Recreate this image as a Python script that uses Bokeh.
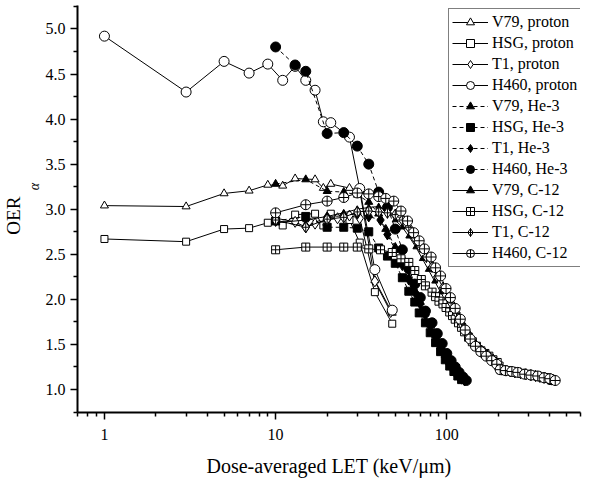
from bokeh.plotting import figure
from bokeh.models import FixedTicker, PrintfTickFormatter, Legend, LegendItem, Title, Range1d
from bokeh.embed import file_html
from bokeh.resources import INLINE

# ---------------- data ----------------
v79_p_x = [1, 3, 5, 7, 9, 11, 13, 17, 19, 21, 27, 31, 38, 48]
v79_p_y = [3.04, 3.03, 3.175, 3.205, 3.27, 3.26, 3.34, 3.33, 3.235, 3.28, 3.235, 3.21, 2.21, 1.85]

hsg_p_x = [1, 3, 5, 7, 9, 11, 13, 17, 19, 21, 27, 31, 38, 48]
hsg_p_y = [2.67, 2.64, 2.78, 2.79, 2.85, 2.82, 2.94, 2.95, 2.82, 2.95, 2.88, 2.63, 2.08, 1.73]

t1_p_x = [10, 13, 15, 17, 20, 23, 27, 31, 38, 47]
t1_p_y = [2.90, 2.86, 2.80, 2.84, 2.88, 2.90, 2.93, 2.90, 2.20, 1.86]

h460_p_x = [1, 3, 5, 7, 9, 11, 13, 15, 17, 19, 21, 27, 31, 38, 48]
h460_p_y = [4.92, 4.30, 4.64, 4.51, 4.61, 4.43, 4.585, 4.43, 4.32, 3.97, 3.96, 3.80, 3.23, 2.33, 1.88]

v79_he_x = [10, 15, 20, 25, 30, 35, 40, 44, 50, 55, 60, 65, 70, 75, 80, 86, 92, 98, 104, 110, 116, 122, 128]
v79_he_y = [3.28, 3.33, 3.20, 3.19, 3.16, 3.08, 2.95, 2.78, 2.58, 2.40, 2.24, 2.10, 1.97, 1.85, 1.72,
            1.60, 1.48, 1.38, 1.30, 1.23, 1.17, 1.13, 1.10]

hsg_he_x = [10, 15, 20, 25, 30, 35, 40, 45, 50, 55, 60, 65, 69, 75, 80, 86, 92, 98, 104, 110, 116, 122]
hsg_he_y = [2.87, 2.92, 2.80, 2.80, 2.79, 2.75, 2.57, 2.48, 2.40, 2.24, 2.09, 1.97, 1.85, 1.74, 1.63,
            1.52, 1.42, 1.33, 1.26, 1.20, 1.15, 1.11]

t1_he_x = [10, 15, 20, 25, 30, 35, 41, 45, 50, 55, 60, 65, 70, 75, 80, 86, 92, 98, 104, 110, 116, 122, 127]
t1_he_y = [2.87, 2.81, 2.91, 2.93, 2.95, 2.92, 2.88, 2.72, 2.55, 2.38, 2.22, 2.08, 1.95, 1.83, 1.71,
           1.59, 1.48, 1.38, 1.29, 1.22, 1.16, 1.12, 1.10]

h460_he_x = [10, 13, 15, 20, 25, 30, 35, 40, 45, 50, 55, 60, 65, 70, 75, 82, 88, 94, 100, 106, 112, 118, 124, 130]
h460_he_y = [4.80, 4.60, 4.53, 3.84, 3.85, 3.70, 3.50, 3.19, 3.02, 2.78, 2.55, 2.34, 2.17, 2.02, 1.87,
             1.74, 1.62, 1.51, 1.40, 1.32, 1.25, 1.19, 1.14, 1.10]

v79_c_x = [10, 15, 20, 25, 30, 35, 40, 45, 50, 55, 60, 66, 72, 78, 85, 92, 100, 104, 108, 112, 117, 122,
           127, 132, 138, 144, 150, 156, 163, 170, 178, 185, 193, 200, 205, 215, 230, 245, 260, 280, 300,
           320, 340, 360, 380, 400, 420]
v79_c_y = [2.85, 2.88, 2.92, 2.96, 3.00, 3.02, 3.03, 2.98, 2.88, 2.80, 2.70, 2.58, 2.45, 2.33, 2.20, 2.08,
           1.96, 1.90, 1.85, 1.80, 1.74, 1.68, 1.63, 1.58, 1.54, 1.50, 1.46, 1.43, 1.40, 1.37, 1.35, 1.32,
           1.30, 1.27, 1.23, 1.22, 1.21, 1.20, 1.19, 1.18, 1.17, 1.16, 1.15, 1.14, 1.13, 1.12, 1.10]

hsg_c_x = [10, 15, 20, 25, 30, 35, 41, 48, 54, 60, 65, 71, 75, 82, 86, 90, 95, 99, 104, 108, 112, 117,
           122, 127, 134, 141, 149, 158, 167, 176, 186, 197, 202, 207, 215, 225, 240, 257, 275, 295, 315,
           338, 360, 386, 400, 415]
hsg_c_y = [2.55, 2.58, 2.58, 2.58, 2.58, 2.56, 2.55, 2.52, 2.45, 2.41, 2.32, 2.22, 2.15, 2.08, 2.03, 1.98,
           1.95, 1.91, 1.86, 1.82, 1.78, 1.74, 1.69, 1.64, 1.58, 1.53, 1.48, 1.43, 1.40, 1.37, 1.33, 1.30,
           1.26, 1.22, 1.22, 1.21, 1.20, 1.19, 1.18, 1.17, 1.16, 1.15, 1.14, 1.13, 1.12, 1.10]

t1_c_x = [10, 15, 20, 25, 30, 35, 40, 45, 50, 55, 60, 65, 70, 76, 82, 88, 95, 102, 106, 110, 114, 118,
          122, 127, 132, 137, 142, 148, 154, 160, 167, 173, 180, 187, 194, 200, 210, 222, 235, 250, 270,
          290, 310, 330, 350, 370, 390, 410, 430]
t1_c_y = [2.88, 2.80, 2.89, 2.91, 2.97, 2.98, 2.97, 2.96, 2.94, 2.88, 2.80, 2.68, 2.58, 2.47, 2.36, 2.25,
          2.13, 2.02, 1.96, 1.90, 1.85, 1.79, 1.73, 1.68, 1.63, 1.58, 1.53, 1.49, 1.46, 1.43, 1.40, 1.38,
          1.35, 1.33, 1.30, 1.27, 1.22, 1.21, 1.20, 1.19, 1.18, 1.17, 1.16, 1.15, 1.14, 1.13, 1.12, 1.11,
          1.10]

h460_c_x = [10, 15, 20, 25, 30, 35, 40, 44, 49, 54, 59, 64, 69, 74, 81, 86, 92, 99, 105, 112, 120, 128,
            137, 147, 158, 170, 183, 196, 205, 220, 240, 260, 285, 310, 340, 370, 400, 430]
h460_c_y = [2.96, 3.05, 3.09, 3.13, 3.18, 3.17, 3.14, 3.12, 3.09, 2.98, 2.87, 2.74, 2.65, 2.56, 2.47, 2.35,
            2.26, 2.12, 2.02, 1.90, 1.78, 1.66, 1.56, 1.48, 1.42, 1.37, 1.32, 1.28, 1.22, 1.21, 1.20, 1.19,
            1.17, 1.16, 1.15, 1.13, 1.12, 1.10]

y_ticks = [1.0, 1.5, 2.0, 2.5, 3.0, 3.5, 4.0, 4.5, 5.0]
x_ticks = [1, 10, 100]

series = [
    ("V79, proton", v79_p_x, v79_p_y, "triangle", 8, "white", None),
    ("HSG, proton", hsg_p_x, hsg_p_y, "square", 7, "white", None),
    ("T1, proton", t1_p_x, t1_p_y, "diamond", 11, "white", None),
    ("H460, proton", h460_p_x, h460_p_y, "circle", 10, "white", None),
    ("V79, He-3", v79_he_x, v79_he_y, "triangle", 8, "black", "4 3"),
    ("HSG, He-3", hsg_he_x, hsg_he_y, "square", 8, "black", "4 3"),
    ("T1, He-3", t1_he_x, t1_he_y, "diamond", 11, "black", "4 3"),
    ("H460, He-3", h460_he_x, h460_he_y, "circle", 10, "black", "4 3"),
    ("V79, C-12", v79_c_x, v79_c_y, "triangle", 6, "black", None),
    ("HSG, C-12", hsg_c_x, hsg_c_y, "square_cross", 8, "white", None),
    ("T1, C-12", t1_c_x, t1_c_y, "diamond_cross", 11, "white", None),
    ("H460, C-12", h460_c_x, h460_c_y, "circle_cross", 10, "white", None),
]

# ---------------- figure ----------------
p = figure(width=592, height=482, x_axis_type="log",
           x_range=Range1d(0.696, 604), y_range=Range1d(0.745, 5.26),
           output_backend="svg", toolbar_location=None,
           min_border_left=76, min_border_right=12, min_border_top=5, min_border_bottom=70)
p.outline_line_color = None
p.grid.visible = False
p.background_fill_color = "white"

items = []
for label, xs, ys, marker, size, fill, dash in series:
    if dash:
        ln = p.line(xs, ys, line_color="black", line_width=1, line_dash=dash)
    else:
        ln = p.line(xs, ys, line_color="black", line_width=1)
    sc = p.scatter(xs, ys, marker=marker, size=size, fill_color=fill, line_color="black", line_width=1)
    items.append(LegendItem(label=label, renderers=[ln, sc]))

legend = Legend(items=items, location=(371, 145))
legend.label_text_font = "Liberation Serif"
legend.label_text_font_size = "16px"
legend.label_text_color = "black"
legend.label_height = 20
legend.glyph_height = 20
legend.glyph_width = 36
legend.label_standoff = 4
legend.spacing = 1
legend.padding = 3
legend.margin = 0
legend.border_line_color = "black"
legend.border_line_width = 1
legend.background_fill_color = "white"
legend.background_fill_alpha = 1.0
p.add_layout(legend)

# axes
for ax in (p.xaxis[0], p.yaxis[0]):
    ax.axis_line_width = 2
    ax.axis_line_color = "black"
    ax.major_tick_line_width = 1.5
    ax.minor_tick_line_width = 1.5
    ax.major_tick_out = 7
    ax.major_tick_in = 0
    ax.minor_tick_out = 4
    ax.minor_tick_in = 0
    ax.major_label_text_font = "Liberation Serif"
    ax.major_label_text_font_size = "16px"
    ax.major_label_text_color = "black"
    ax.major_label_standoff = 6
    ax.axis_label_text_font = "Liberation Serif"
    ax.axis_label_text_font_size = "20px"
    ax.axis_label_text_font_style = "normal"
    ax.axis_label_text_color = "black"

p.xaxis.ticker = FixedTicker(ticks=x_ticks,
                             minor_ticks=[0.7, 0.8, 0.9, 2, 3, 4, 5, 6, 7, 8, 9,
                                          20, 30, 40, 50, 60, 70, 80, 90, 200, 300, 400, 500, 600])
p.xaxis.formatter = PrintfTickFormatter(format="%d")
p.xaxis.major_label_standoff = 9
p.xaxis.axis_label = "Dose-averaged LET (keV/\u03bcm)"
p.xaxis.axis_label_standoff = 12

p.yaxis.ticker = FixedTicker(ticks=y_ticks,
                             minor_ticks=[0.75, 1.25, 1.75, 2.25, 2.75, 3.25, 3.75, 4.25, 4.75, 5.25])
p.yaxis.formatter = PrintfTickFormatter(format="%.1f")
p.yaxis.major_label_standoff = 5

# y-axis label: OER with subscript alpha (two stacked left titles; em/thin spaces shift them along the axis)
t_alpha = Title(text="\u2003\u2003\u2003\u2009\u03b1", align="center", standoff=2,
                text_font="Liberation Serif", text_font_size="14px", text_font_style="italic",
                text_color="black")
t_oer = Title(text="OER\u2002\u2009", align="center", standoff=0,
              text_font="Liberation Serif", text_font_size="19px", text_font_style="normal",
              text_color="black")
p.add_layout(t_alpha, "left")
p.add_layout(t_oer, "left")

open("out.html", "w").write(file_html(p, INLINE))
